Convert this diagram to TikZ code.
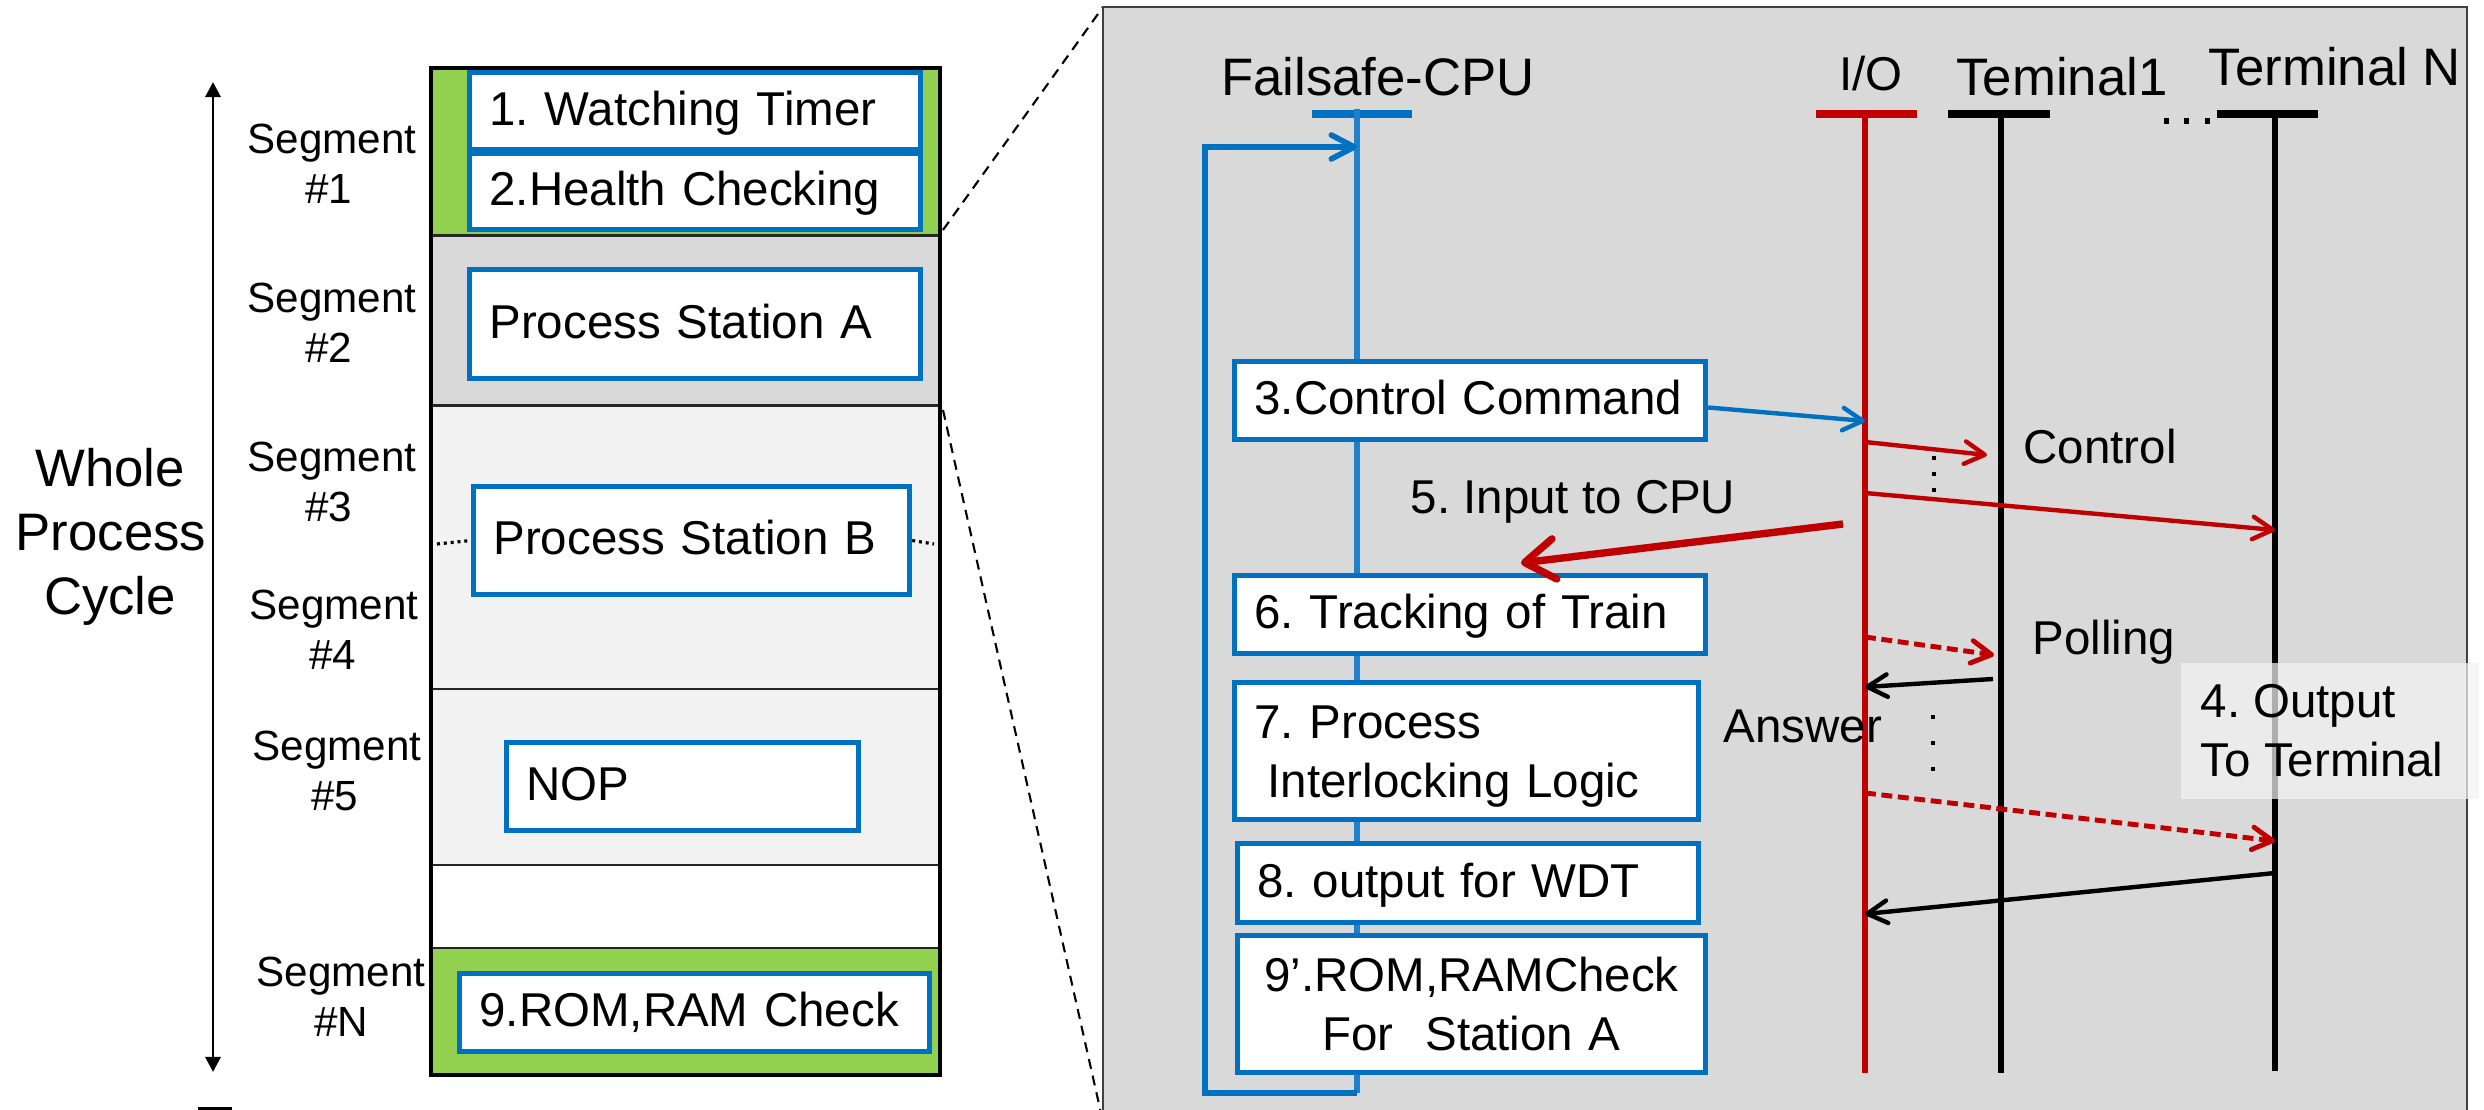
\documentclass[tikz,border=0pt]{standalone}
\usepackage{fontspec}
\setmainfont{Liberation Sans}
\usetikzlibrary{arrows.meta}
\definecolor{boxblue}{HTML}{0070C0}
\definecolor{lifeblue}{HTML}{2080CC}
\definecolor{ired}{HTML}{C00000}
\definecolor{sgreen}{HTML}{92D050}
\definecolor{pgray}{HTML}{D9D9D9}
\definecolor{lgray}{HTML}{F2F2F2}
\newcommand\fsBox{\fontsize{13.5pt}{16.6pt}\selectfont}
\newcommand\fsSeg{\fontsize{12pt}{14.2pt}\selectfont}
\newcommand\fsBig{\fontsize{15pt}{18pt}\selectfont}
\frenchspacing
\begin{document}
\begin{tikzpicture}[x=0.01cm,y=-0.01cm,
  bx/.style={draw=boxblue, line width=1.4pt, fill=white, inner xsep=0.2cm, inner ysep=0pt,
     anchor=north west, align=left, font=\fsBox},
  sl/.style={text height=0.82em, text depth=0pt},
  seg/.style={font=\fsSeg, anchor=base, inner sep=0pt},
  big/.style={font=\fsBig, anchor=base, inner sep=0pt},
  lbl/.style={font=\fsBox, anchor=base west, inner sep=0pt},
  sepline/.style={line width=0.85pt, black!85},
  zoomline/.style={line width=0.6pt, dash pattern=on 2.85pt off 2pt},
  headbar/.style={line width=2.1pt},
  life/.style={line width=1.75pt},
  openhead/.style={-{Straight Barb[length=5.7pt,width=6.4pt,round]}},
  arr/.style={line width=1.25pt, openhead},
  dashedarr/.style={line width=1.4pt, openhead, dash pattern=on 3.1pt off 1.6pt},
  dots/.style={line width=1.14pt},
]
\useasboundingbox (0,0) rectangle (2484,1110);

% ---------------- left part ----------------
\draw[line width=0.85pt, {Triangle[length=4.3pt,width=4.3pt]}-{Triangle[length=4.3pt,width=4.3pt]}] (213,82) -- (213,1072);
\fill[black] (198,1107) rectangle (232,1114);

\node[big] (wh1) at (110,487) {Whole};
\node[big] (wh2) at (111,551) {Process};
\node[big] (wh3) at (110,615) {Cycle};

\node[seg] (s1a) at (332,154) {Segment};
\node[seg] (s1b) at (329,204) {\#1};
\node[seg] (s2a) at (332,313) {Segment};
\node[seg] (s2b) at (329,363) {\#2};
\node[seg] (s3a) at (332,472) {Segment};
\node[seg] (s3b) at (329,522) {\#3};
\node[seg] (s4a) at (334,620) {Segment};
\node[seg] (s4b) at (333,670) {\#4};
\node[seg] (s5a) at (337,761) {Segment};
\node[seg] (s5b) at (335,811) {\#5};
\node[seg] (sNa) at (341,987) {Segment};
\node[seg] (sNb) at (341,1037) {\#N};

\fill[sgreen] (431,68) rectangle (940,236);
\fill[pgray] (431,236) rectangle (940,406);
\fill[lgray] (431,406) rectangle (940,865);
\fill[white] (431,865) rectangle (940,948);
\fill[sgreen] (431,948) rectangle (940,1075);
\draw[sepline] (431,236) -- (940,236);
\draw[sepline] (431,406) -- (940,406);
\draw[sepline] (431,689) -- (940,689);
\draw[sepline] (431,865) -- (940,865);
\draw[sepline] (431,948) -- (940,948);
\draw[line width=1pt] (431,68) rectangle (940,1075);

\node[bx, sl, text width=4.11cm, minimum height=0.77cm] (w1) at (467,70) {1. Watching Timer};
\node[bx, sl, text width=4.11cm, minimum height=0.76cm] (w2) at (467,151) {2.Health Checking};
\node[bx, sl, text width=4.11cm, minimum height=1.09cm] (psa) at (467,267) {Process Station A};
\node[bx, sl, text width=3.96cm, minimum height=1.08cm] (psb) at (471,484) {Process Station B};
\node[bx, sl, text width=3.12cm, minimum height=0.88cm] (nop) at (504,740) {NOP};
\node[bx, sl, text width=4.30cm, minimum height=0.78cm] (r9) at (457,971) {9.ROM,RAM Check};
\draw[line width=0.9pt, dash pattern=on 0.85pt off 1.1pt] (437,544) -- (psb.west);
\draw[line width=0.9pt, dash pattern=on 0.85pt off 1.1pt] (psb.east) -- (934,544);

% zoom lines
\coordinate (zA) at (943,230);
\coordinate (zB) at (943,410);
\coordinate (pTL) at (1103,7);
\coordinate (pBL) at (1103,1122);
\draw[zoomline] (zA) -- (pTL);
\draw[zoomline] (zB) -- (pBL);

% ---------------- right panel ----------------
\draw[fill=pgray, draw=black!75, line width=0.6pt] (1103,7) rectangle (2467,1130);

\coordinate (cpuT) at (1357,109);
\coordinate (cpuB) at (1357,1093);
\coordinate (ioT) at (1865,114);
\coordinate (ioB) at (1865,1073);
\coordinate (t1T) at (2001,114);
\coordinate (t1B) at (2001,1073);
\coordinate (tnT) at (2275,114);
\coordinate (tnB) at (2275,1071);

\node[big] (hcpu) at (1378,96) {Failsafe-CPU};
\node[font=\fsBox, anchor=base, inner sep=0pt] (hio) at (1871,91) {I/O};
\node[big] (ht1) at (2062,96) {Teminal1};
\node[big] (htn) at (2335,86) {Terminal N};

\draw[headbar, boxblue] (1312,114) -- (1412,114);
\draw[headbar, ired] (1816,114) -- (1917,114);
\draw[headbar, black] (1948,114) -- (2050,114);
\draw[headbar, black] (2217,114) -- (2318,114);
\fill[black] (2164,118) rectangle (2169,124);
\fill[black] (2184,118) rectangle (2189,124);
\fill[black] (2205,118) rectangle (2210,124);

\draw[life, lifeblue] (cpuT) -- (cpuB);
\draw[life, ired] (ioT) -- (ioB);
\draw[life, black] (t1T) -- (t1B);
\draw[life, black] (tnT) -- (tnB);

% loop
\draw[line width=1.6pt, boxblue, -{Straight Barb[length=6.5pt,width=6.8pt,round]}]
  (cpuB) -- (1205,1093) -- (1205,147) -- (cpuT |- 0,147);

% boxes on CPU lifeline
\node[bx, sl, text width=4.31cm, minimum height=0.78cm] (b3) at (1232,359) {3.Control Command};
\node[bx, sl, text width=4.31cm, minimum height=0.78cm] (b6) at (1232,573) {6. Tracking of Train};
\node[bx, text width=4.24cm, minimum height=1.37cm] (b7) at (1232,680) {\rule{0pt}{0.93em}7. Process\\\hspace*{0.278em}Interlocking Logic};
\node[bx, sl, text width=4.21cm, minimum height=0.79cm] (b8) at (1235,841) {8. output for WDT};
\node[bx, align=center, text width=4.28cm, minimum height=1.37cm] (b9) at (1235,933) {9’.ROM,RAMCheck\\For\ \ Station A};

% free end points
\coordinate (ctrlEnd) at (1987,455);
\coordinate (pollEnd) at (1994,655);
\coordinate (ansStart) at (1993,679);
\coordinate (inStart) at (1843,524);
\coordinate (inEnd) at (1521,563);

% messages
\draw[arr, boxblue] ([yshift=-0.07cm]b3.east) -- (ioT |- 0,421);
\draw[arr, ired] (ioT |- 0,442) -- (ctrlEnd);
\draw[arr, ired] (ioT |- 0,493) -- (tnT |- 0,530);
\draw[line width=2.1pt, ired, -{Straight Barb[length=8.5pt,width=11.5pt,round]}] (inStart) -- (inEnd);
\draw[dashedarr, ired] (ioT |- 0,637) -- (pollEnd);
\draw[arr, black] (ansStart) -- (ioT |- 0,687);
\draw[dashedarr, ired] (ioT |- 0,793) -- (tnT |- 0,841);
\draw[arr, black] (tnT |- 0,873) -- (ioT |- 0,914);

\draw[dots, dash pattern=on 1.14pt off 3.4pt] (1934,456) -- (1934,493);
\draw[dots, dash pattern=on 1.14pt off 6.26pt] (1933,715) -- (1933,772);

% labels
\node[lbl] (lctrl) at (2023,464) {Control};
\node[lbl] (linp) at (1410,514) {5. Input to CPU};
\node[lbl] (lpoll) at (2032,655) {Polling};
\node[lbl] (lans) at (1723,743) {Answer};

\node[fill=lgray, fill opacity=0.72, anchor=north west, minimum width=2.98cm, minimum height=1.36cm, inner sep=0pt] (outbg) at (2180,662) {};
\node[lbl] (lout1) at (2200,718) {4. Output};
\node[lbl] (lout2) at (2200,777) {To Terminal};

\end{tikzpicture}
\end{document}
